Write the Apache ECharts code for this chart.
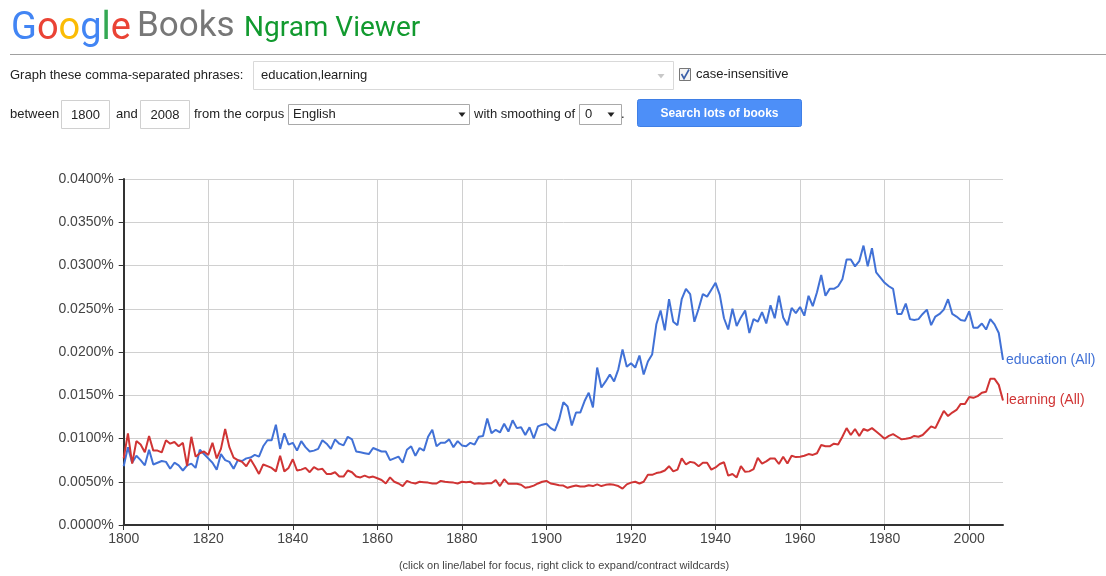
<!DOCTYPE html>
<html>
<head>
<meta charset="utf-8">
<script src="https://cdn.jsdelivr.net/npm/echarts@6/dist/echarts.min.js"></script>
<style>
html,body{margin:0;padding:0;background:#fff;}
#chart{width:1106px;height:576px;}
</style>
</head>
<body>
<div id="chart"></div>
<script>
// Values are in thousandths of a percent (e.g. 6.8 = 0.0068%)
var startYear = 1800;
var endYear = 2008;
var yTicksPercent = ['0.0000%','0.0050%','0.0100%','0.0150%','0.0200%','0.0250%','0.0300%','0.0350%','0.0400%'];
var seriesNames = ['education (All)', 'learning (All)'];

var education = [
6.8,9.0,7.2,8.0,7.5,6.9,8.7,7.0,7.2,7.4,
7.3,6.5,7.2,6.9,6.3,6.9,7.1,6.6,8.7,8.2,
7.7,7.2,6.4,8.2,7.5,7.3,6.5,7.5,7.4,7.7,
7.8,8.1,7.9,9.1,9.8,9.8,11.6,8.8,10.6,9.3,
9.5,8.6,9.7,9.0,8.5,8.6,8.8,9.8,9.4,8.8,
9.9,9.4,9.2,10.2,9.9,8.5,8.4,8.3,8.2,8.9,
8.7,8.5,8.5,7.5,7.7,7.9,7.2,8.7,9.1,8.0,
8.9,8.6,10.2,11.0,9.1,9.5,9.5,9.9,9.0,9.7,
9.2,9.1,9.5,9.3,10.2,10.3,12.3,10.6,11.0,10.7,
11.7,10.8,12.1,11.2,11.3,10.4,11.3,10.0,11.4,11.6,
11.7,11.2,10.9,12.2,14.2,13.7,11.5,13.0,13.0,14.3,
15.3,13.6,18.2,15.9,16.6,17.4,16.6,18.0,20.3,18.3,
18.7,18.2,19.6,17.4,18.9,19.7,23.2,24.8,22.5,26.1,
23.5,23.1,26.1,27.3,26.7,23.5,25.0,26.7,26.4,27.2,
28.0,26.6,23.9,22.6,25.0,23.0,24.0,24.8,22.2,23.8,
23.5,24.6,23.3,25.4,23.9,26.5,24.0,23.1,25.1,24.5,
25.2,24.2,26.5,25.3,26.9,28.9,26.5,27.3,27.3,27.6,
28.4,30.7,30.7,29.9,30.5,32.3,29.9,32.0,29.2,28.6,
28.0,27.6,27.3,24.4,24.4,25.6,23.8,23.7,23.8,24.4,
24.9,23.1,24.1,24.4,24.9,26.1,24.4,24.1,23.7,23.6,
24.7,22.8,22.8,23.3,22.6,23.8,23.2,22.2,19.1
];

var learning = [
7.7,10.6,7.1,9.7,9.3,8.4,10.3,8.6,8.6,8.4,
9.8,9.4,9.6,9.1,9.5,6.8,10.2,7.9,8.3,8.5,
8.1,9.5,7.7,8.8,11.1,9.0,7.8,7.5,7.3,6.8,
7.6,6.8,5.9,7.0,6.8,6.6,6.2,8.0,6.2,6.6,
7.6,6.3,6.4,6.6,6.1,6.7,6.4,6.5,5.9,5.9,
6.1,5.6,5.6,6.3,6.1,5.6,5.5,5.7,5.5,5.6,
5.4,5.2,4.8,5.5,5.0,4.8,4.5,5.1,4.9,4.8,
5.0,4.95,4.9,4.8,4.8,5.1,5.0,4.95,4.9,4.8,
5.0,4.95,5.0,4.76,4.83,4.76,4.83,4.83,5.2,4.5,
5.3,4.76,4.76,4.76,4.65,4.3,4.4,4.55,4.8,5.0,
5.1,4.8,4.7,4.6,4.56,4.3,4.45,4.56,4.45,4.45,
4.6,4.5,4.7,4.5,4.64,4.7,4.64,4.5,4.2,4.7,
4.9,5.0,4.8,5.0,5.8,5.8,6.0,6.1,6.3,6.8,
6.2,6.4,7.7,7.0,7.3,7.2,6.8,7.2,7.2,6.4,
6.65,7.05,7.25,5.7,5.9,5.5,6.8,6.15,6.2,6.45,
7.75,7.1,7.35,7.7,7.7,7.05,7.9,7.1,8.0,7.85,
7.9,8.0,8.2,8.1,8.3,9.25,9.1,9.1,9.4,9.3,
10.2,11.2,10.4,11.1,10.3,11.1,10.9,11.2,10.8,10.4,
9.97,10.3,10.5,10.2,9.9,9.97,10.05,10.3,10.2,10.4,
10.9,11.4,11.2,12.2,13.2,12.6,13.0,13.3,14.0,14.0,
14.8,14.7,14.9,15.3,15.4,16.9,16.9,16.2,14.4
];

function pairs(arr){
  var out = [];
  for (var i = 0; i < arr.length; i++) out.push([startYear + i, arr[i]]);
  return out;
}

var FONT = '"Liberation Sans", Arial, sans-serif';
function txt(x, y, s, opts){
  opts = opts || {};
  return {type:'text', z:10, style:{x:x, y:y, text:s, fill:opts.fill||'#222',
    font:(opts.weight||'normal')+' '+(opts.size||13)+'px '+(opts.family||FONT),
    textAlign:opts.align||'left', textVerticalAlign:'middle'}};
}
function box(x, y, w, h, stroke, fill){
  return {type:'rect', z:5, shape:{x:x, y:y, width:w, height:h}, style:{fill:fill||'#fff', stroke:stroke||'#ccc', lineWidth:1}};
}
function tri(cx, cy, color){
  return {type:'polygon', z:10, shape:{points:[[cx-3.5,cy-2],[cx+3.5,cy-2],[cx,cy+2.5]]}, style:{fill:color||'#222'}};
}

// vertical grid colours: one per split line (1800..2000), none at the 2008 edge
var vGridColors = [];
for (var k = 0; k < 11; k++) vGridColors.push('#d0d0d0');
vGridColors.push('rgba(0,0,0,0)');

var chart = echarts.init(document.getElementById('chart'), null, {renderer:'canvas'});
chart.setOption({
  animation:false,
  backgroundColor:'#fff',
  grid:{left:123.7, right:103, top:179, bottom:51, containLabel:false},
  xAxis:{
    type:'value', min:startYear, max:endYear, interval:20,
    axisLine:{show:true, onZero:false, lineStyle:{color:'#333', width:2}},
    axisTick:{show:true, length:5, lineStyle:{color:'#333', width:1}},
    axisLabel:{show:true, color:'#444', fontSize:14, fontFamily:FONT, margin:7, showMaxLabel:false,
      formatter:function(v){return v % 20 === 0 ? String(v) : '';}},
    splitLine:{show:true, lineStyle:{color:vGridColors, width:1}}
  },
  yAxis:{
    type:'value', min:0, max:40, interval:5,
    axisLine:{show:true, lineStyle:{color:'#333', width:2}},
    axisTick:{show:true, length:5, lineStyle:{color:'#333', width:1}},
    axisLabel:{color:'#444', fontSize:14, fontFamily:FONT, margin:10,
      formatter:function(v){return yTicksPercent[Math.round(v/5)];}},
    splitLine:{show:true, lineStyle:{color:'#d0d0d0', width:1}}
  },
  series:[
    {name:seriesNames[0], type:'line', data:pairs(education), showSymbol:false, symbol:'none',
     lineStyle:{color:'#4171d6', width:2}, itemStyle:{color:'#4171d6'},
     endLabel:{show:true, formatter:seriesNames[0], color:'#4171d6', fontSize:14, fontFamily:FONT, distance:3}},
    {name:seriesNames[1], type:'line', data:pairs(learning), showSymbol:false, symbol:'none',
     lineStyle:{color:'#d03434', width:2}, itemStyle:{color:'#d03434'},
     endLabel:{show:true, formatter:seriesNames[1], color:'#d03434', fontSize:14, fontFamily:FONT, distance:3}}
  ],
  graphic:[
    {type:'text', z:10, style:{x:11, y:29, textVerticalAlign:'middle',
      text:'{b|G}{r|o}{y|o}{b|g}{g|l}{r|e}',
      rich:{
        b:{fill:'#4285f4', font:'normal 38px Roboto, sans-serif'},
        r:{fill:'#ea4335', font:'normal 38px Roboto, sans-serif'},
        y:{fill:'#fbbc05', font:'normal 38px Roboto, sans-serif'},
        g:{fill:'#34a853', font:'normal 38px Roboto, sans-serif'}
      }}},
    txt(137, 27, 'Books', {fill:'#777', size:35, family:'Roboto, sans-serif'}),
    txt(244, 29, 'Ngram Viewer', {fill:'#129a2f', size:28, family:'Roboto, sans-serif'}),
    {type:'line', z:5, shape:{x1:10, y1:54.5, x2:1106, y2:54.5}, style:{stroke:'#a0a0a0', lineWidth:1}},

    txt(10, 75, 'Graph these comma-separated phrases:'),
    box(253.5, 61.5, 420, 28, '#d9d9d9'),
    txt(261, 75.5, 'education,learning'),
    tri(661, 76, '#c8c8c8'),
    box(679.5, 68.5, 11, 12, '#777', '#f4f4f4'),
    {type:'polyline', z:11, shape:{points:[[681.5,74],[684,78.5],[689,69.5]]}, style:{stroke:'#3a5fa8', lineWidth:1.6, fill:null}},
    txt(696, 74.5, 'case-insensitive'),

    txt(10, 114.5, 'between'),
    box(61.5, 100.5, 48, 28, '#d0d0d0'),
    txt(85.5, 115, '1800', {align:'center'}),
    txt(116, 114.5, 'and'),
    box(140.5, 100.5, 49, 28, '#d0d0d0'),
    txt(165, 115, '2008', {align:'center'}),
    txt(194, 114.5, 'from the corpus'),
    box(288.5, 104.5, 181, 20, '#a9a9a9'),
    txt(293, 114.5, 'English'),
    tri(462, 114.5, '#222'),
    txt(474, 114.5, 'with smoothing of'),
    box(579.5, 104.5, 42, 20, '#a9a9a9'),
    txt(585, 114.5, '0'),
    tri(611, 114.5, '#222'),
    txt(621, 114.5, '.'),
    {type:'rect', z:5, shape:{x:637.5, y:99.5, width:164, height:27, r:2}, style:{fill:'#4d8ff8', stroke:'#3f7fe6', lineWidth:1}},
    txt(719.5, 114, 'Search lots of books', {fill:'#fff', weight:'bold', size:12, align:'center'}),

    txt(564, 566, '(click on line/label for focus, right click to expand/contract wildcards)', {fill:'#444', size:11, align:'center'})
  ]
});
</script>
</body>
</html>
